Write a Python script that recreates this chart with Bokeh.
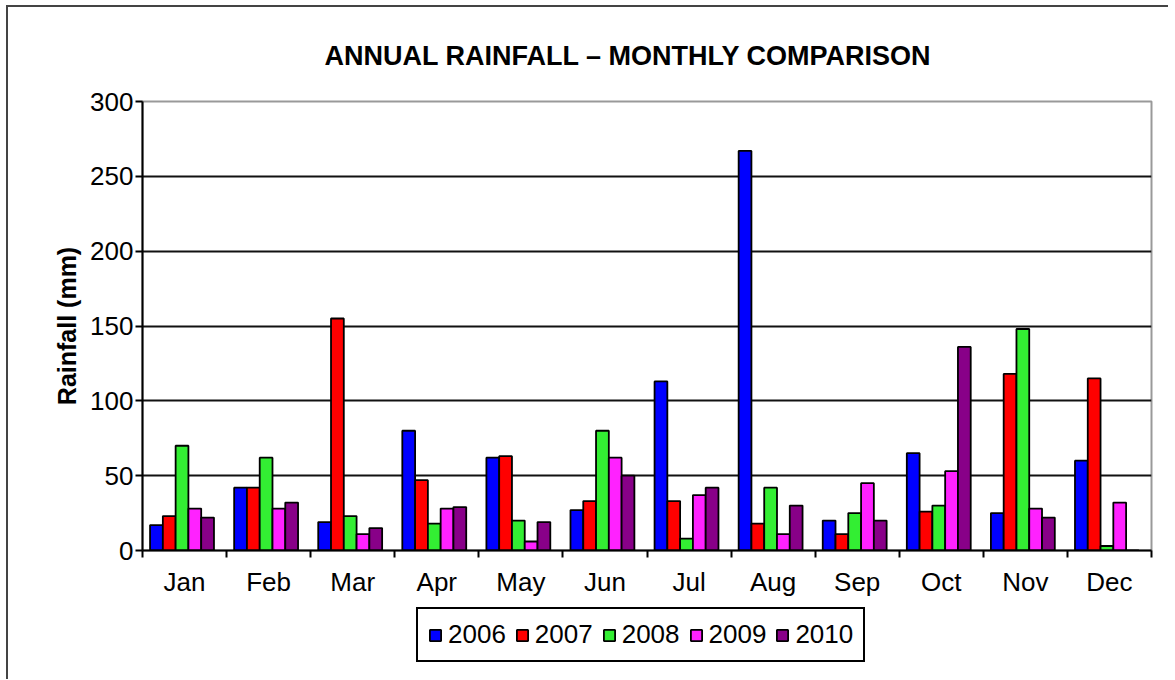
import numpy as np
from bokeh.plotting import figure
from bokeh.layouts import column
from bokeh.models import ColumnDataSource, Range1d, FixedTicker, Legend, LegendItem
from bokeh.transform import dodge
from bokeh.embed import file_html
from bokeh.resources import INLINE

months = ["Jan", "Feb", "Mar", "Apr", "May", "Jun", "Jul", "Aug", "Sep", "Oct", "Nov", "Dec"]
years = ["2006", "2007", "2008", "2009", "2010"]
r2006 = [17, 42, 19, 80, 62, 27, 113, 267, 20, 65, 25, 60]
r2007 = [23, 42, 155, 47, 63, 33, 33, 18, 11, 26, 118, 115]
r2008 = [70, 62, 23, 18, 20, 80, 8, 42, 25, 30, 148, 3]
r2009 = [28, 28, 11, 28, 6, 62, 37, 11, 45, 53, 28, 32]
r2010 = [22, 32, 15, 29, 19, 50, 42, 30, 20, 136, 22, 0]
y_ticks = [0, 50, 100, 150, 200, 250, 300]
colors = ["#0000FF", "#FF0000", "#33EE33", "#FF22FF", "#880088"]
series = [r2006, r2007, r2008, r2009, r2010]

centers = np.arange(len(months)) + 0.5
src = ColumnDataSource(dict(x=centers, **{y: v for y, v in zip(years, series)}))

FONT = "Liberation Sans"
p = figure(width=1160, height=600, x_range=Range1d(0, len(months)), y_range=Range1d(0, 300),
           output_backend="svg", toolbar_location=None,
           min_border_left=134, min_border_right=17, min_border_top=94, min_border_bottom=57)

bw = 0.152
shift = -0.03
for i, (yr, c) in enumerate(zip(years, colors)):
    p.vbar(x=dodge("x", (i - 2) * bw + shift, range=p.x_range), top=yr, width=bw, source=src,
           fill_color=c, line_color="black", line_width=1.8)

p.title.text = "ANNUAL RAINFALL \u2013 MONTHLY COMPARISON"
p.title.align = "left"
p.title.offset = 182
p.title.text_font = FONT
p.title.text_font_size = "27px"
p.title.text_font_style = "bold"
p.title.text_color = "black"
p.title.standoff = 62

p.outline_line_color = "#999999"
p.outline_line_width = 2

# y axis
p.yaxis.ticker = FixedTicker(ticks=y_ticks, minor_ticks=[])
p.yaxis.axis_label = "Rainfall (mm)"
p.yaxis.axis_label_text_font = FONT
p.yaxis.axis_label_text_font_size = "25px"
p.yaxis.axis_label_text_font_style = "bold"
p.yaxis.axis_label_text_color = "black"
p.yaxis.axis_label_standoff = 6
p.yaxis.major_label_text_font = FONT
p.yaxis.major_label_text_font_size = "26px"
p.yaxis.major_label_text_color = "black"
p.yaxis.axis_line_color = "black"
p.yaxis.axis_line_width = 2
p.yaxis.major_tick_line_color = "black"
p.yaxis.major_tick_line_width = 2
p.yaxis.major_tick_out = 7
p.yaxis.major_tick_in = 0
p.yaxis.major_label_standoff = 2

# x axis: labels at centres, ticks at boundaries
p.xaxis.ticker = FixedTicker(ticks=list(centers), minor_ticks=list(range(len(months) + 1)))
p.xaxis.major_label_overrides = {float(c): m for c, m in zip(centers, months)}
p.xaxis.major_label_text_font = FONT
p.xaxis.major_label_text_font_size = "26px"
p.xaxis.major_label_text_color = "black"
p.xaxis.axis_line_color = "black"
p.xaxis.axis_line_width = 2
p.xaxis.major_tick_line_color = None
p.xaxis.major_tick_out = 8
p.xaxis.major_tick_in = 0
p.xaxis.minor_tick_line_color = "black"
p.xaxis.minor_tick_line_width = 2
p.xaxis.minor_tick_out = 7
p.xaxis.minor_tick_in = 0
p.xaxis.major_label_standoff = 8

p.xgrid.grid_line_color = None
p.ygrid.grid_line_color = "#111111"
p.ygrid.grid_line_width = 2

# legend strip below the chart (hidden copies of the series feed the legend swatches)
pl = figure(width=1160, height=72, x_range=Range1d(0, len(months)), y_range=Range1d(0, 300),
            output_backend="svg", toolbar_location=None, x_axis_type=None, y_axis_type=None,
            min_border=0)
pl.outline_line_color = None
pl.grid.grid_line_color = None
leg_renderers = []
for i, (yr, c) in enumerate(zip(years, colors)):
    r = pl.vbar(x=dodge("x", (i - 2) * bw + shift, range=pl.x_range), top=yr, width=bw, source=src,
                fill_color=c, line_color="black", line_width=1.8, visible=False)
    leg_renderers.append(r)

legend = Legend(items=[LegendItem(label=y, renderers=[r]) for y, r in zip(years, leg_renderers)],
                orientation="horizontal", location=(274, 17))
legend.label_text_font = FONT
legend.label_text_font_size = "26px"
legend.label_text_color = "black"
legend.glyph_width = 14
legend.glyph_height = 14
legend.label_standoff = 6
legend.spacing = 9
legend.padding = 10
legend.margin = 0
legend.inactive_fill_alpha = 0
legend.border_line_color = "black"
legend.border_line_width = 2
legend.border_line_alpha = 1
pl.add_layout(legend)

layout = column(p, pl, spacing=0,
                styles={"border-left": "2px solid #444", "border-top": "2px solid #444",
                        "margin-left": "6px", "margin-top": "5px"})

open("out.html", "w").write(file_html(layout, INLINE))
